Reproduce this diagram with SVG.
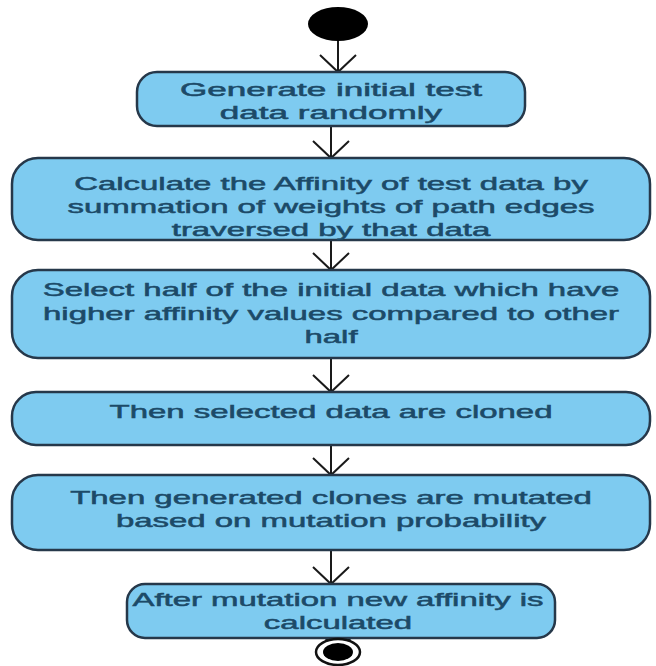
<svg xmlns="http://www.w3.org/2000/svg" width="656" height="666" viewBox="0 0 656 666">
<style>
.box{fill:#7ecbf0;stroke:#26384a;stroke-width:2.5}
.t{font-family:"Liberation Sans",Arial,sans-serif;font-size:18px;fill:#1c4a68;stroke:#1c4a68;stroke-width:0.5;text-anchor:middle}
.ln{stroke:#1a1a1a;stroke-width:2;fill:none}
</style>
<rect width="656" height="666" fill="#ffffff"/>
<g id="start"><ellipse cx="338" cy="24" rx="30" ry="17" fill="#000"/></g>
<g id="connectors">
<path class="ln" d="M338 41V72M320 55L338 72L356 55"/>
<path class="ln" d="M331 126V158M313 141L331 158L349 141"/>
<path class="ln" d="M331 240V270M313 253L331 270L349 253"/>
<path class="ln" d="M331 358V392M313 375L331 392L349 375"/>
<path class="ln" d="M331 445V475M313 458L331 475L349 458"/>
<path class="ln" d="M331 550V584M313 567L331 584L349 567"/>
<path class="ln" d="M338 638V650M320 633L338 650L356 633"/>
</g>
<g id="n1"><rect class="box" x="137" y="72" width="388" height="54" rx="20"/>
<g transform="translate(331,0) scale(1.95,1)"><text class="t" x="0" y="96">Generate initial test</text><text class="t" x="0" y="119">data randomly</text></g></g>
<g id="n2"><rect class="box" x="12" y="158" width="638" height="82" rx="26"/>
<g transform="translate(331,0) scale(1.83,1)"><text class="t" x="0" y="190">Calculate the Affinity of test data by</text><text class="t" x="0" y="213">summation of weights of path edges</text><text class="t" x="0" y="236">traversed by that data</text></g></g>
<g id="n3"><rect class="box" x="12" y="270" width="638" height="88" rx="26"/>
<g transform="translate(331,0) scale(1.83,1)"><text class="t" x="0" y="296">Select half of the initial data which have</text><text class="t" x="0" y="320">higher affinity values compared to other</text><text class="t" x="0" y="343">half</text></g></g>
<g id="n4"><rect class="box" x="12" y="392" width="638" height="53" rx="24"/>
<g transform="translate(331,0) scale(1.83,1)"><text class="t" x="0" y="418">Then selected data are cloned</text></g></g>
<g id="n5"><rect class="box" x="12" y="475" width="638" height="75" rx="26"/>
<g transform="translate(331,0) scale(1.83,1)"><text class="t" x="0" y="504">Then generated clones are mutated</text><text class="t" x="0" y="527">based on mutation probability</text></g></g>
<g id="n6"><rect class="box" x="127" y="584" width="428" height="54" rx="18"/>
<g transform="translate(338,0) scale(1.83,1)"><text class="t" x="0" y="606">After mutation new affinity is</text><text class="t" x="0" y="629">calculated</text></g></g>
<g id="end"><ellipse cx="338" cy="652" rx="22" ry="13" fill="#fff" stroke="#111" stroke-width="2.5"/><ellipse cx="338" cy="652" rx="15" ry="9" fill="#000"/></g>
</svg>
